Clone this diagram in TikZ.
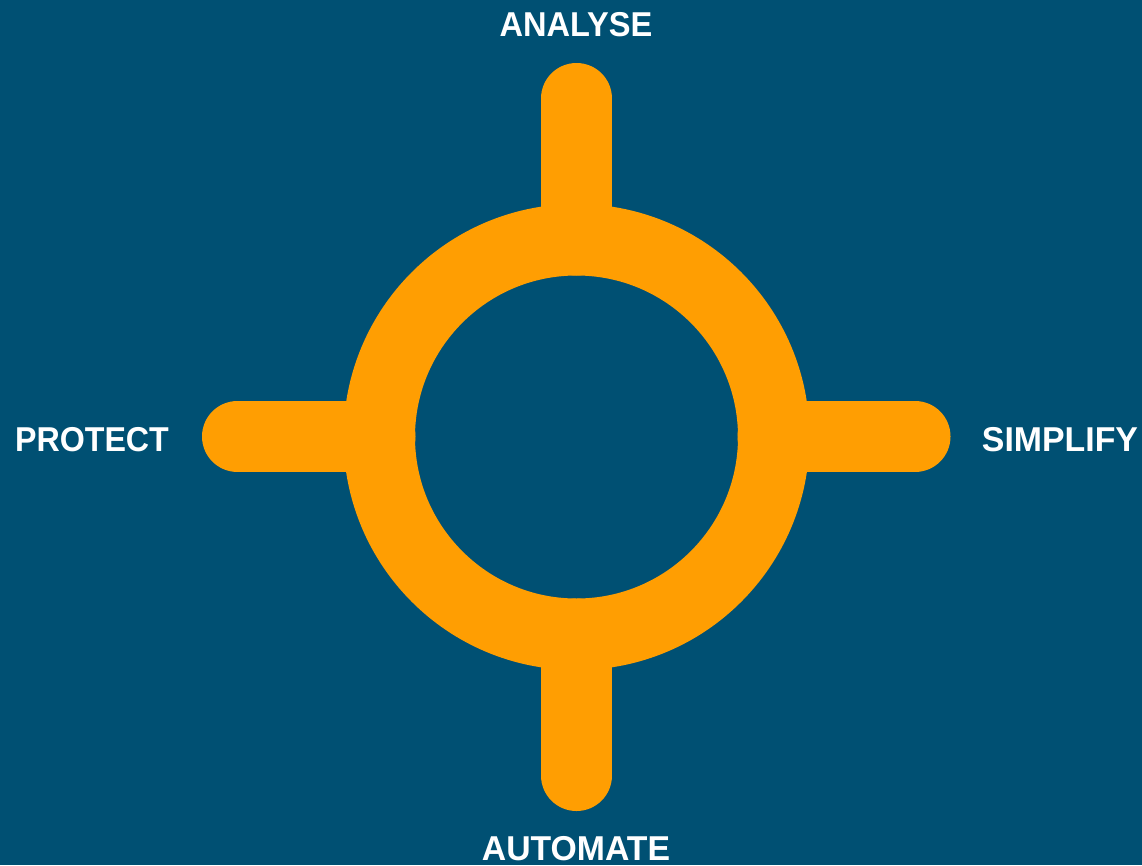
\documentclass[tikz,border=0pt]{standalone}
\usepackage{fontspec}
\usepackage{graphicx}
\setmainfont{Liberation Sans}
\definecolor{bgblue}{HTML}{005073}
\definecolor{ringorange}{HTML}{FF9E02}
\tikzset{
  arm/.style={draw=ringorange,line width=71pt,line cap=round},
  ring/.style={draw=ringorange,line width=71.5pt},
  lab/.style={text=white,font=\bfseries\fontsize{34.5}{38}\selectfont,inner sep=0pt,anchor=center}
}
\begin{document}
\begin{tikzpicture}[x=1pt,y=-1pt]
\fill[bgblue] (0,0) rectangle (1142,865);
\useasboundingbox (0,0) rectangle (1142,865);
\coordinate (c) at (576.5,437);
\coordinate (n) at (576.5,98.5);
\coordinate (s) at (576.5,775.5);
\coordinate (w) at (237.5,436.5);
\coordinate (e) at (915,436.5);
\coordinate (n2) at (576.5,240);
\coordinate (s2) at (576.5,634);
\coordinate (w2) at (380,436.5);
\coordinate (e2) at (773,436.5);
\draw[arm] (n) -- (n2);
\draw[arm] (s) -- (s2);
\draw[arm] (w) -- (w2);
\draw[arm] (e) -- (e2);
\draw[ring] (c) circle (197.25);
\node[lab] (analyse) at (576,25) {\scalebox{0.944}[1]{ANALYSE}};
\node[lab] (automate) at (576,848.5) {\scalebox{0.979}[1]{AUTOMATE}};
\node[lab] (protect) at (92,439.5) {\scalebox{0.933}[1]{PROTECT}};
\node[lab] (simplify) at (1060,439.5) {\scalebox{0.981}[1]{SIMPLIFY}};
\end{tikzpicture}
\end{document}
